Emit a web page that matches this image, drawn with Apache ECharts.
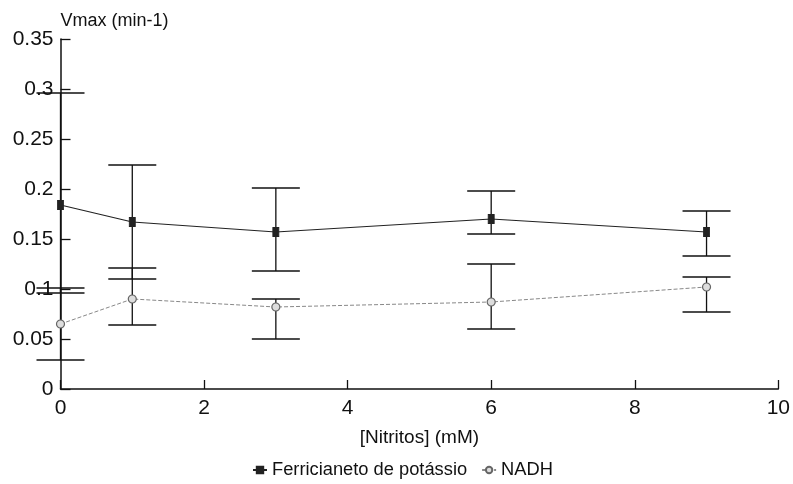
<!DOCTYPE html>
<html>
<head>
<meta charset="utf-8">
<script src="https://cdn.jsdelivr.net/npm/echarts@6/dist/echarts.min.js"></script>
<style>html,body{margin:0;padding:0;background:#fff}#c{width:793px;height:484px}</style>
</head>
<body>
<div id="c"></div>
<script>
const nitritos = [0, 1, 3, 6, 9];
const ferriMean = [0.184, 0.167, 0.157, 0.170, 0.157];
const ferriHigh = [0.296, 0.224, 0.201, 0.198, 0.178];
const ferriLow  = [0.096, 0.110, 0.118, 0.155, 0.133];
const nadhMean = [0.065, 0.090, 0.082, 0.087, 0.102];
const nadhHigh = [0.101, 0.121, 0.090, 0.125, 0.112];
const nadhLow  = [0.029, 0.064, 0.050, 0.060, 0.077];
const xTicks = [0, 2, 4, 6, 8, 10];
const yTicks = [0, 0.05, 0.1, 0.15, 0.2, 0.25, 0.3, 0.35];

const font = '"Liberation Sans", Arial, sans-serif';

function errData(mean, low, high) {
  return nitritos.map((x, i) => [x, low[i], high[i]]);
}
function errRender(params, api) {
  const x = api.value(0);
  const lo = api.coord([x, api.value(1)]);
  const hi = api.coord([x, api.value(2)]);
  const w = 24;
  const st = { stroke: '#111', lineWidth: 1.3 };
  return {
    type: 'group',
    children: [
      { type: 'line', shape: { x1: lo[0], y1: lo[1], x2: hi[0], y2: hi[1] }, style: st },
      { type: 'line', shape: { x1: hi[0] - w, y1: hi[1], x2: hi[0] + w, y2: hi[1] }, style: st },
      { type: 'line', shape: { x1: lo[0] - w, y1: lo[1], x2: lo[0] + w, y2: lo[1] }, style: st }
    ]
  };
}

const chart = echarts.init(document.getElementById('c'), null, { renderer: 'canvas' });
chart.setOption({
  backgroundColor: '#fff',
  animation: false,
  textStyle: { fontFamily: font, color: '#111' },
  grid: { left: 60.5, right: 14, top: 39, bottom: 95, containLabel: false },
  legend: {
    top: 456,
    left: 247,
    itemWidth: 14,
    itemHeight: 8,
    itemGap: 14,
    textStyle: { fontFamily: font, fontSize: 18.3, color: '#111' },
    data: ['Ferricianeto de potássio', 'NADH']
  },
  xAxis: {
    type: 'value',
    min: 0, max: 10, interval: 2,
    name: '[Nitritos] (mM)',
    nameLocation: 'middle',
    nameGap: 39,
    nameTextStyle: { fontFamily: font, fontSize: 19, color: '#111' },
    axisLine: { lineStyle: { color: '#111', width: 1.5 } },
    axisTick: { inside: true, length: 9, lineStyle: { color: '#111', width: 1.3 } },
    axisLabel: { fontFamily: font, fontSize: 21, color: '#111', margin: 9,
      formatter: v => xTicks.includes(v) ? String(v) : '' },
    splitLine: { show: false }
  },
  yAxis: {
    type: 'value',
    min: 0, max: 0.35, interval: 0.05,
    name: 'Vmax (min-1)',
    nameLocation: 'end',
    nameGap: 9,
    nameTextStyle: { fontFamily: font, fontSize: 18, color: '#111', align: 'left' },
    axisLine: { lineStyle: { color: '#111', width: 1.5 } },
    axisTick: { inside: true, length: 10, lineStyle: { color: '#111', width: 1.3 } },
    axisLabel: { fontFamily: font, fontSize: 21, color: '#111', margin: 7,
      formatter: v => { const t = yTicks.find(k => Math.abs(k - v) < 1e-9); return t === undefined ? '' : String(t); } },
    splitLine: { show: false }
  },
  series: [
    {
      name: 'Ferricianeto de potássio',
      type: 'line',
      data: nitritos.map((x, i) => [x, ferriMean[i]]),
      symbol: 'rect',
      symbolSize: [6, 9],
      z: 5,
      lineStyle: { color: '#222', width: 1.2 },
      itemStyle: { color: '#222', borderColor: '#222', borderWidth: 1 }
    },
    {
      name: 'NADH',
      type: 'line',
      data: nitritos.map((x, i) => [x, nadhMean[i]]),
      symbol: 'circle',
      symbolSize: 8,
      z: 5,
      lineStyle: { color: '#888', width: 1, type: [4, 2] },
      itemStyle: { color: '#ddd', borderColor: '#666', borderWidth: 1.2 }
    },
    {
      type: 'custom',
      name: 'errFerri',
      renderItem: errRender,
      data: errData(ferriMean, ferriLow, ferriHigh),
      z: 3,
      silent: true
    },
    {
      type: 'custom',
      name: 'errNadh',
      renderItem: errRender,
      data: errData(nadhMean, nadhLow, nadhHigh),
      z: 3,
      silent: true
    }
  ]
});
</script>
</body>
</html>
